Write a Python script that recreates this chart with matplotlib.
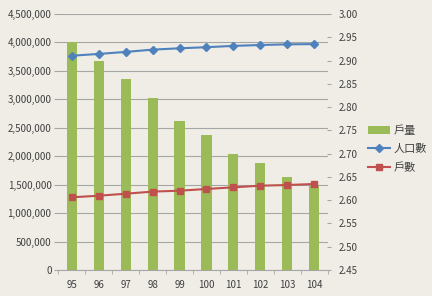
import numpy as np
import matplotlib
matplotlib.use('Agg')
import matplotlib.pyplot as plt
from matplotlib.ticker import FuncFormatter, MultipleLocator

plt.rcParams['font.family'] = ['Noto Sans CJK TC', 'DejaVu Sans']

years = ['95', '96', '97', '98', '99', '100', '101', '102', '103', '104']
household_size = [2.94, 2.90, 2.86, 2.82, 2.77, 2.74, 2.70, 2.68, 2.65, 2.63]
population = [3767095, 3798015, 3833730, 3873653, 3897367, 3916451, 3939305, 3954929, 3966818, 3970644]
households = [1278000, 1306000, 1341000, 1378000, 1394000, 1424000, 1453000, 1482000, 1494000, 1512000]

bg = '#efede6'
grid_c = '#a6a6a6'
txt = '#404040'

fig = plt.figure(figsize=(4.32, 2.96), dpi=100, facecolor=bg)
ax = fig.add_axes([58.5 / 432, 26 / 296, 269 / 432, 256 / 296])
ax.set_facecolor(bg)
x = np.arange(len(years))

# left axis: grid and labels
ax.set_xlim(-0.5, len(years) - 0.5)
ax.set_ylim(0, 4500000)
ax.yaxis.set_major_locator(MultipleLocator(500000))
ax.yaxis.set_major_formatter(FuncFormatter(lambda v, p: f'{int(v):,}'))
ax.grid(axis='y', color=grid_c, linewidth=0.8)
for s in ['left', 'right', 'top']:
    ax.spines[s].set_visible(False)
ax.spines['bottom'].set_color(grid_c)
ax.tick_params(axis='y', length=3, color=grid_c, labelsize=7, labelcolor=txt, pad=2)
ax.set_xticks(x)
ax.set_xticklabels(years)
ax.set_xticks(np.arange(-0.5, len(years)), minor=True)
ax.tick_params(axis='x', which='major', length=0, labelsize=7, labelcolor=txt, pad=7)
ax.tick_params(axis='x', which='minor', length=3, color=grid_c)

# right axis: bars
ax2 = ax.twinx()
ax2.patch.set_visible(False)
bars = ax2.bar(x, household_size, width=0.38, color='#9bbb59', label='戶量', bottom=0)
ax2.set_ylim(2.45, 3.00)
ax2.yaxis.set_major_locator(MultipleLocator(0.05))
ax2.yaxis.set_major_formatter(FuncFormatter(lambda v, p: f'{v:.2f}'))
for s in ax2.spines.values():
    s.set_visible(False)
ax2.tick_params(axis='y', length=3, color=grid_c, labelsize=7, labelcolor=txt, pad=5)

# lines on top, same scale as left axis
ax3 = ax.twinx()
ax3.patch.set_visible(False)
ax3.set_ylim(ax.get_ylim())
ax3.axis('off')
l1, = ax3.plot(x, population, color='#4f81bd', marker='D', markersize=4, linewidth=1.5, label='人口數')
l2, = ax3.plot(x, households, color='#c0504d', marker='s', markersize=5, linewidth=1.5, label='戶數')

fig.legend([bars, l1, l2], ['戶量', '人口數', '戶數'], loc='center left',
           bbox_to_anchor=(368 / 432, 1 - 149 / 296), frameon=False, fontsize=8,
           borderaxespad=0, borderpad=0,
           labelcolor=txt, handlelength=2.0, handletextpad=0.3, labelspacing=0.75)

fig.savefig('out.png', dpi=100, facecolor=bg)
